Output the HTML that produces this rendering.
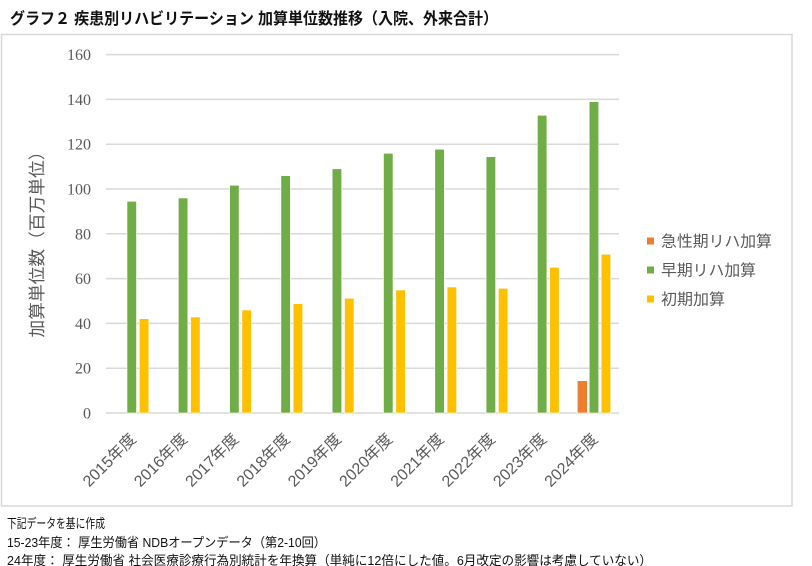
<!DOCTYPE html>
<html>
<head>
<meta charset="utf-8">
<style>
html,body{margin:0;padding:0;background:#fff;}
svg{display:block;}
</style>
</head>
<body>
<svg width="812" height="566" viewBox="0 0 812 566" xmlns="http://www.w3.org/2000/svg">
<rect x="0" y="0" width="812" height="566" fill="#fff"/>
<text x="10" y="24" font-family="'Liberation Sans','Noto Sans CJK JP',sans-serif" font-size="16" font-weight="bold" fill="#111" textLength="488" lengthAdjust="spacingAndGlyphs">グラフ２ 疾患別リハビリテーション 加算単位数推移（入院、外来合計）</text>
<rect x="1.5" y="34.5" width="790.5" height="471.5" fill="#fff" stroke="#D9D9D9" stroke-width="1.5"/>
<g stroke="#D9D9D9" stroke-width="1.5">
<line x1="106" x2="619" y1="413" y2="413"/>
<line x1="106" x2="619" y1="368.2" y2="368.2"/>
<line x1="106" x2="619" y1="323.4" y2="323.4"/>
<line x1="106" x2="619" y1="278.6" y2="278.6"/>
<line x1="106" x2="619" y1="233.8" y2="233.8"/>
<line x1="106" x2="619" y1="189" y2="189"/>
<line x1="106" x2="619" y1="144.2" y2="144.2"/>
<line x1="106" x2="619" y1="99.4" y2="99.4"/>
<line x1="106" x2="619" y1="54.6" y2="54.6"/>
</g>
<g font-family="'Liberation Serif',serif" font-size="16" fill="#595959" text-anchor="end">
<text x="91" y="418.5">0</text>
<text x="91" y="373.7">20</text>
<text x="91" y="328.9">40</text>
<text x="91" y="284.1">60</text>
<text x="91" y="239.3">80</text>
<text x="91" y="194.5">100</text>
<text x="91" y="149.7">120</text>
<text x="91" y="104.9">140</text>
<text x="91" y="60.1">160</text>
</g>
<text transform="translate(43,240) rotate(-90)" text-anchor="middle" font-family="'Liberation Sans','Noto Sans CJK JP',sans-serif" font-size="17" fill="#595959" textLength="195" lengthAdjust="spacingAndGlyphs">加算単位数（百万単位）</text>
<g stroke="#fff" stroke-width="0.6">
<!-- green -->
<rect x="127" y="201.3" width="9.5" height="211.7" fill="#70AD47"/>
<rect x="178.3" y="198" width="9.5" height="215" fill="#70AD47"/>
<rect x="229.6" y="185.3" width="9.5" height="227.7" fill="#70AD47"/>
<rect x="280.9" y="175.7" width="9.5" height="237.3" fill="#70AD47"/>
<rect x="332.2" y="168.8" width="9.5" height="244.2" fill="#70AD47"/>
<rect x="383.5" y="153.3" width="9.5" height="259.7" fill="#70AD47"/>
<rect x="434.8" y="149.3" width="9.5" height="263.7" fill="#70AD47"/>
<rect x="486.1" y="156.7" width="9.5" height="256.3" fill="#70AD47"/>
<rect x="537.4" y="115.3" width="9.5" height="297.7" fill="#70AD47"/>
<rect x="589.2" y="101.7" width="9.5" height="311.3" fill="#70AD47"/>
<!-- yellow -->
<rect x="139.3" y="318.7" width="9.5" height="94.3" fill="#FFC000"/>
<rect x="190.6" y="317" width="9.5" height="96" fill="#FFC000"/>
<rect x="241.9" y="310" width="9.5" height="103" fill="#FFC000"/>
<rect x="293.2" y="303.7" width="9.5" height="109.3" fill="#FFC000"/>
<rect x="344.5" y="298.3" width="9.5" height="114.7" fill="#FFC000"/>
<rect x="395.8" y="290" width="9.5" height="123" fill="#FFC000"/>
<rect x="447.1" y="287" width="9.5" height="126" fill="#FFC000"/>
<rect x="498.4" y="288.3" width="9.5" height="124.7" fill="#FFC000"/>
<rect x="549.7" y="267.3" width="9.5" height="145.7" fill="#FFC000"/>
<rect x="601.2" y="254.3" width="9.5" height="158.7" fill="#FFC000"/>
<!-- orange -->
<rect x="577.3" y="380.7" width="10" height="32.3" fill="#ED7D31"/>
</g>
<g font-family="'Liberation Sans','Noto Sans CJK JP',sans-serif" font-size="16" fill="#595959" text-anchor="end">
<text transform="translate(137,440) rotate(-45)">2015年度</text>
<text transform="translate(188.3,440) rotate(-45)">2016年度</text>
<text transform="translate(239.6,440) rotate(-45)">2017年度</text>
<text transform="translate(290.9,440) rotate(-45)">2018年度</text>
<text transform="translate(342.2,440) rotate(-45)">2019年度</text>
<text transform="translate(393.5,440) rotate(-45)">2020年度</text>
<text transform="translate(444.8,440) rotate(-45)">2021年度</text>
<text transform="translate(496.1,440) rotate(-45)">2022年度</text>
<text transform="translate(547.4,440) rotate(-45)">2023年度</text>
<text transform="translate(598.7,440) rotate(-45)">2024年度</text>
</g>
<rect x="647" y="237.5" width="7" height="7" fill="#ED7D31"/>
<rect x="647" y="266.5" width="7" height="7" fill="#70AD47"/>
<rect x="647" y="295.5" width="7" height="7" fill="#FFC000"/>
<g font-family="'Liberation Sans','Noto Sans CJK JP',sans-serif" font-size="15.5" fill="#595959">
<text x="661" y="246.5" textLength="111" lengthAdjust="spacingAndGlyphs">急性期リハ加算</text>
<text x="661" y="275.5" textLength="95" lengthAdjust="spacingAndGlyphs">早期リハ加算</text>
<text x="661" y="304.5" textLength="64" lengthAdjust="spacingAndGlyphs">初期加算</text>
</g>
<g font-family="'Liberation Sans','Noto Sans CJK JP',sans-serif" font-size="13" fill="#111">
<text x="7" y="528" textLength="98" lengthAdjust="spacingAndGlyphs">下記データを基に作成</text>
<text x="7" y="547" textLength="319" lengthAdjust="spacingAndGlyphs">15-23年度： 厚生労働省 NDBオープンデータ（第2-10回）</text>
<text x="7" y="565" textLength="645" lengthAdjust="spacingAndGlyphs">24年度： 厚生労働省 社会医療診療行為別統計を年換算（単純に12倍にした値。6月改定の影響は考慮していない）</text>
</g>
</svg>
</body>
</html>
